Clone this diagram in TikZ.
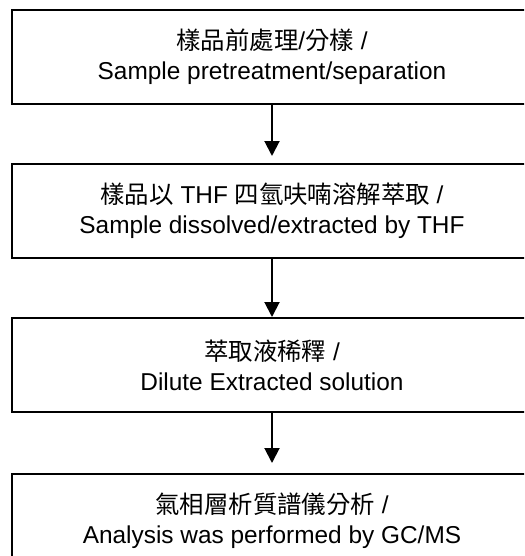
\documentclass[tikz,border=0pt]{standalone}
\usepackage{fontspec}
\setmainfont{Liberation Sans}
\newfontfamily\cjk{Noto Sans CJK TC}
\usetikzlibrary{positioning,arrows.meta}

\begin{document}
\begin{tikzpicture}[node distance=29pt]
    \tikzset{
        stepbox/.style = {rectangle, line width=1pt, minimum width=260pt, minimum height=47pt, inner sep=0pt,
                          align=center, draw=black, fill=white, font=\fontsize{12.2}{15}\selectfont},
        arrow/.style = {line width=1pt,-{Triangle[width=7.5pt,length=7.5pt]}}
    }
    % frame of the page, the boxes run past its right edge
    \useasboundingbox (0,0) rectangle (262pt,-278pt);
    \clip (0,0) rectangle (262pt,-278pt);

    \node (prep) [stepbox] at (136pt,-28.5pt) {{\cjk 樣品前處理}/{\cjk 分樣} /\\Sample pretreatment/separation};
    \node (extract) [stepbox, below=of prep] {{\cjk 樣品以} THF {\cjk 四氫呋喃溶解萃取} /\\Sample dissolved/extracted by THF};
    \node (dilute) [stepbox, below=of extract] {{\cjk 萃取液稀釋} /\\Dilute Extracted solution};
    \node (gcms) [stepbox, below=30pt of dilute] {{\cjk 氣相層析質譜儀分析} /\\Analysis was performed by GC/MS};

    \draw [arrow, shorten >=3.5pt] (prep) -- (extract);
    \draw [arrow] (extract) -- (dilute);
    \draw [arrow, shorten >=5pt] (dilute) -- (gcms);
\end{tikzpicture}
\end{document}
